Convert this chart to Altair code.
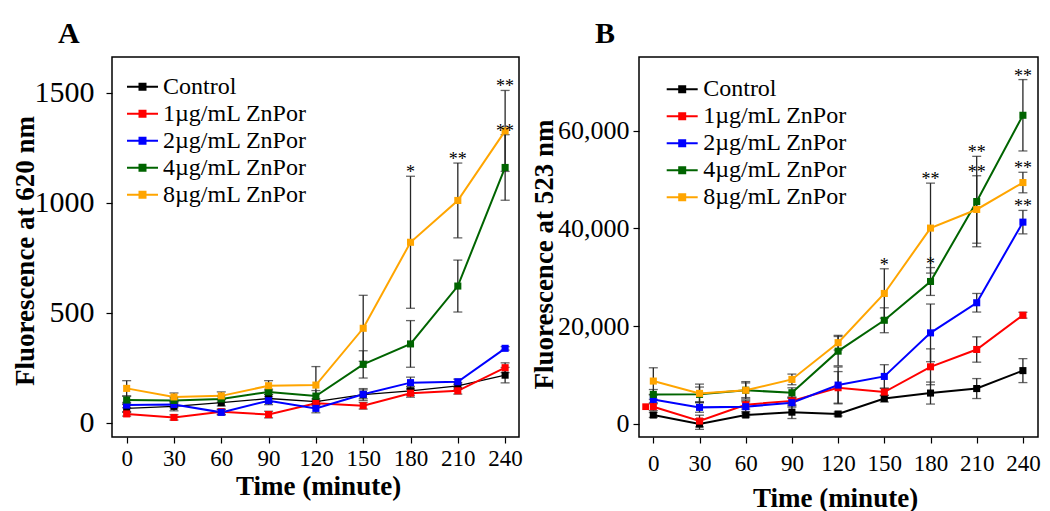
import altair as alt
import pandas as pd

times = [0, 30, 60, 90, 120, 150, 180, 210, 240]
series = ["Control", "1µg/mL ZnPor", "2µg/mL ZnPor", "4µg/mL ZnPor", "8µg/mL ZnPor"]
colors = ["#000000", "#FF0000", "#0000FF", "#006400", "#FFA500"]
panel_letters = ["A", "B"]

# Panel A: fluorescence at 620 nm (mean, error)
a_ctrl = [65, 74, 91, 110, 96, 128, 145, 167, 216]
a_ctrl_err = [18, 20, 15, 18, 12, 27, 20, 15, 35]
a_1 = [40, 24, 50, 37, 88, 77, 134, 145, 250]
a_1_err = [10, 12, 12, 15, 10, 15, 18, 15, 22]
a_2 = [80, 83, 47, 100, 65, 129, 182, 186, 338]
a_2_err = [12, 15, 12, 18, 20, 20, 25, 12, 8]
a_4 = [103, 101, 108, 140, 121, 265, 358, 621, 1160]
a_4_err = [18, 12, 15, 12, 25, 62, 106, 118, 149]
a_8 = [156, 117, 122, 168, 171, 429, 820, 1010, 1326]
a_8_err = [35, 18, 18, 23, 84, 150, 300, 170, 184]

# Panel B: fluorescence at 523 nm (mean, error)
b_ctrl = [1840, 0, 1840, 2420, 2040, 5200, 6330, 7250, 10920]
b_ctrl_err = [500, 1100, 400, 1300, 400, 700, 2250, 2040, 2450]
b_1 = [3540, 600, 3950, 4730, 7420, 6530, 11700, 15240, 22250]
b_1_err = [800, 1200, 900, 800, 3300, 750, 3670, 2590, 600]
b_2 = [5030, 3400, 3540, 4350, 7960, 9730, 18640, 24800, 41290]
b_2_err = [900, 1000, 1000, 900, 3700, 2400, 5900, 1900, 2400]
b_4 = [6050, 6060, 6900, 6400, 14900, 21220, 29150, 45500, 63150]
b_4_err = [1000, 1500, 1500, 1000, 3000, 2550, 2850, 9250, 7300]
b_8 = [8780, 6260, 6900, 9120, 16630, 26700, 40070, 43880, 49390]
b_8_err = [2720, 1900, 1770, 1090, 1500, 5050, 9200, 6900, 2100]
# stray red marker left of the first B point
b_stray_time = [-5]
b_stray_value = [3540]

# significance marks: (time, series index, label)
a_stars = [(180, 4, "*"), (210, 4, "**"), (240, 4, "**"), (240, 3, "**")]
b_stars = [(150, 4, "*"), (180, 4, "**"), (180, 3, "*"), (210, 3, "**"),
           (210, 4, "**"), (240, 3, "**"), (240, 4, "**"), (240, 2, "**")]

a_y_ticks = [0, 500, 1000, 1500]
b_y_ticks = [0, 20000, 40000, 60000]

FONT = "Liberation Serif"
LEGEND_PATH = ("M-1.55,0H1.55M-0.4,-0.3H0.4M-0.4,-0.1H0.4"
               "M-0.4,0.1H0.4M-0.4,0.3H0.4")


def build_df(means, errs):
    rows = []
    for s, m, e in zip(series, means, errs):
        for t, v, d in zip(times, m, e):
            rows.append({"time": t, "series": s, "mean": v, "err": d,
                         "lo": v - d, "hi": v + d})
    return pd.DataFrame(rows)


def build_stars(means, errs, stars):
    rows = []
    for t, si, lab in stars:
        i = times.index(t)
        rows.append({"time": t, "top": means[si][i] + errs[si][i], "label": lab})
    return pd.DataFrame(rows)


def panel(means, errs, stars, ydom, xdom, yticks, yfmt, ytitle, letter, w, h,
          ylab_size, ylab_pad, ytitle_x, ytitle_y, xtitle_x, xtitle_y, xlab_pad,
          legx, legy, lab_off, letter_x, thin_control, extra=None):
    df = build_df(means, errs)
    sdf = build_stars(means, errs, stars)
    xenc = alt.X("time:Q",
                 scale=alt.Scale(domain=xdom, nice=False, zero=False),
                 axis=alt.Axis(values=times, title="Time (minute)",
                               labelFontSize=23, labelPadding=xlab_pad,
                               labelBaseline="alphabetic",
                               titleFontSize=27, titleBaseline="alphabetic",
                               titleX=xtitle_x, titleY=xtitle_y,
                               labelFlush=False))
    yscale = alt.Scale(domain=ydom, nice=False, zero=False)
    yaxis = alt.Axis(values=yticks, format=yfmt, title=ytitle,
                     labelFontSize=ylab_size, labelPadding=ylab_pad,
                     titleFontSize=27, titleBaseline="alphabetic",
                     titleX=ytitle_x, titleY=ytitle_y)
    base = alt.Chart(df)
    rules = base.mark_rule(color="#262626", strokeWidth=1.3).encode(
        x=xenc, y=alt.Y("lo:Q", scale=yscale, axis=yaxis), y2="hi:Q")
    caps = base.transform_fold(["lo", "hi"], as_=["end", "val"]).mark_tick(
        orient="horizontal", size=9, thickness=1.3, color="#262626").encode(
        x="time:Q", y="val:Q")
    sw = (alt.condition(alt.datum.series == "Control", alt.value(1.3), alt.value(2))
          if thin_control else alt.value(2))
    lines = base.mark_line().encode(
        x="time:Q", y="mean:Q",
        color=alt.Color("series:N",
                        scale=alt.Scale(domain=series, range=colors),
                        legend=alt.Legend(
                            title=None, orient="none", legendX=legx, legendY=legy,
                            symbolType=LEGEND_PATH, symbolSize=400,
                            symbolStrokeWidth=2, labelFont=FONT,
                            labelFontSize=24, labelColor="black",
                            labelOffset=lab_off, rowPadding=3, padding=0,
                            labelLimit=400)),
        strokeWidth=sw,
        order="time:Q")
    points = base.mark_square(size=50, filled=True, opacity=1).encode(
        x="time:Q", y="mean:Q",
        fill=alt.Fill("series:N", scale=alt.Scale(domain=series, range=colors),
                      legend=None))
    text = alt.Chart(sdf).mark_text(font=FONT, fontSize=18, baseline="alphabetic",
                                    dy=2, color="black").encode(
        x="time:Q", y="top:Q", text="label:N")
    lab = alt.Chart(pd.DataFrame({"letter": [letter]})).mark_text(
        font=FONT, fontSize=30, fontWeight="bold", align="left",
        baseline="alphabetic", color="black").encode(
        text="letter:N", x=alt.value(letter_x), y=alt.value(-14))
    layers = [rules, caps, lines, points, text, lab]
    if extra is not None:
        layers.append(alt.Chart(extra).mark_square(
            size=45, filled=True, opacity=1, color="#FF0000").encode(
            x="time:Q", y="mean:Q"))
    return alt.layer(*layers).properties(width=w, height=h)


chart_a = panel([a_ctrl, a_1, a_2, a_4, a_8],
                [a_ctrl_err, a_1_err, a_2_err, a_4_err, a_8_err],
                a_stars, [-65, 1662], [-9.3, 248.8], a_y_ticks, "d",
                "Fluorescence at 620 nm", panel_letters[0], 407, 380,
                30, 12, -79, 193.5, 206, 57, 22,
                18.5, 17.7, 8.5, -54, True)
chart_b = panel([b_ctrl, b_1, b_2, b_4, b_8],
                [b_ctrl_err, b_1_err, b_2_err, b_4_err, b_8_err],
                b_stars, [-2660, 75070], [-9.3, 249.8], b_y_ticks, ",d",
                "Fluorescence at 523 nm", panel_letters[1], 399, 380,
                26, 4, -87, 197, 196, 69, 27,
                31.2, 20.3, 9, -44, False,
                extra=pd.DataFrame({"time": b_stray_time, "mean": b_stray_value}))

chart = alt.hconcat(chart_a, chart_b, spacing=120, bounds="flush").resolve_scale(
    color="independent", fill="independent", x="independent", y="independent"
).resolve_legend(color="independent").properties(
    autosize=alt.AutoSizeParams(type="none"),
    padding={"left": 104, "top": 49, "right": 930, "bottom": 454}
).configure_view(stroke="black", strokeWidth=1.5).configure_axis(
    labelFont=FONT, titleFont=FONT, labelColor="black", titleColor="black",
    titleFontWeight="bold", tickColor="black", tickSize=6, tickWidth=1.2,
    domain=False, grid=False)

chart.save("out.html", embed_options={"renderer": "svg", "actions": False})
